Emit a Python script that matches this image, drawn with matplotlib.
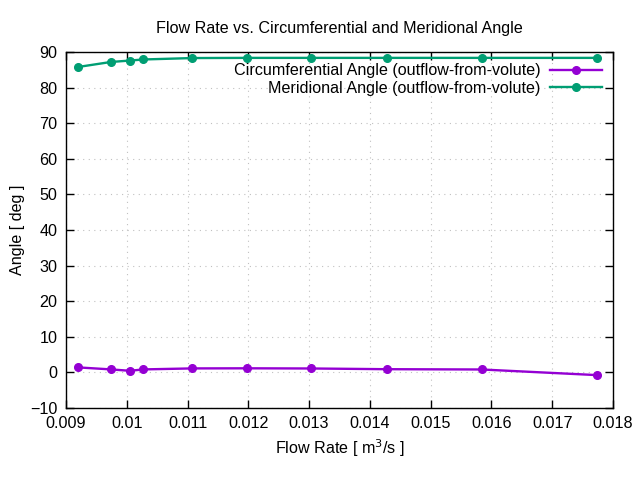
import matplotlib
matplotlib.use("Agg")
import matplotlib.pyplot as plt

flow_rate = [0.009202, 0.00974, 0.010053, 0.010272, 0.011078, 0.011983,
             0.013036, 0.014276, 0.015839, 0.017736]
circ_angle = [1.4, 0.84, 0.45, 0.84, 1.12, 1.15, 1.1, 0.9, 0.82, -0.76]
merid_angle = [85.8, 87.2, 87.6, 87.9, 88.3, 88.35, 88.35, 88.35, 88.35, 88.35]

xticks = [0.009, 0.01, 0.011, 0.012, 0.013, 0.014, 0.015, 0.016, 0.017, 0.018]
xticklabels = ["0.009", "0.01", "0.011", "0.012", "0.013", "0.014",
               "0.015", "0.016", "0.017", "0.018"]
yticks = [-10, 0, 10, 20, 30, 40, 50, 60, 70, 80, 90]

plt.rcParams["font.family"] = ["Liberation Sans", "DejaVu Sans"]
FS = 11.6

fig = plt.figure(figsize=(6.4, 4.8), dpi=100)
ax = fig.add_axes([66 / 640, 1 - 408 / 480, (613 - 66) / 640, (408 - 52) / 480])

ax.plot(flow_rate, circ_angle, color="#9400d3", lw=1.7, marker="o", ms=5.5,
        label="Circumferential Angle (outflow-from-volute)")
ax.plot(flow_rate, merid_angle, color="#009e73", lw=1.7, marker="o", ms=5.5,
        label="Meridional Angle (outflow-from-volute)")

ax.set_xlim(0.009, 0.018)
ax.set_ylim(-10, 90)
ax.set_xticks(xticks)
ax.set_xticklabels(xticklabels)
ax.set_yticks(yticks)
ax.tick_params(direction="in", length=6, width=1, top=True, right=True,
               labelsize=FS, pad=6)
ax.grid(True, color="#c0c0c0", ls=(0, (1, 4)), lw=0.8)
for s in ax.spines.values():
    s.set_linewidth(1)

ax.set_title("Flow Rate vs. Circumferential and Meridional Angle",
             fontsize=FS, pad=14)
ax.set_xlabel("Flow Rate [ m$^3$/s ]", fontsize=FS)
ax.set_ylabel("Angle [ deg ]", fontsize=FS)

leg = ax.legend(loc="upper right", markerfirst=False, frameon=False,
                fontsize=FS, handlelength=3.2, borderaxespad=0.3,
                labelspacing=0.15, handletextpad=0.6)
for t in leg.get_texts():
    t.set_ha("right")

fig.savefig("out.png", dpi=100)
